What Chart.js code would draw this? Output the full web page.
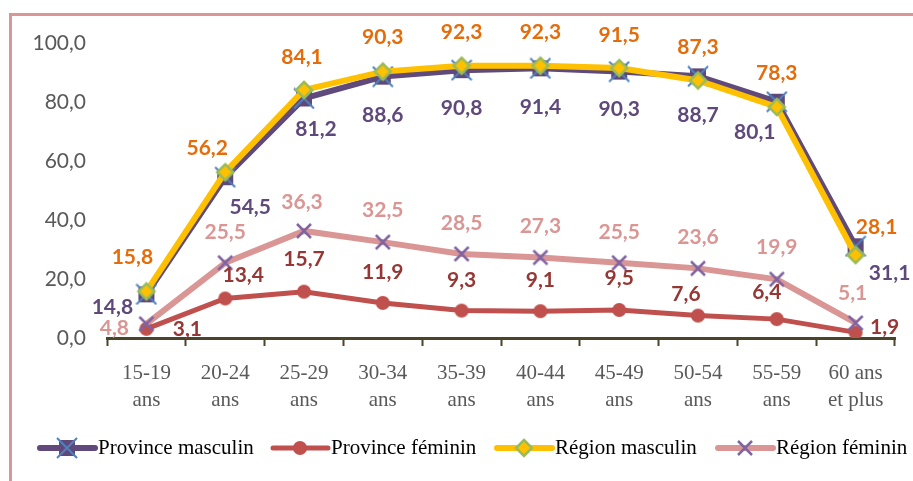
<!DOCTYPE html>
<html lang="fr">
<head>
    <meta charset="UTF-8">
    <title>Taux d'activité par âge</title>
    <script src="https://cdn.jsdelivr.net/npm/chart.js"></script>
    <style>
        html, body {
            margin: 0;
            padding: 0;
            width: 913px;
            height: 481px;
            overflow: hidden;
            background: #fff;
        }
        .frame {
            position: absolute;
            left: 9px;
            top: 13px;
            width: 1000px;
            height: 600px;
            border: 3px solid #D99694;
            box-sizing: border-box;
        }
        #chart {
            position: absolute;
            left: 0;
            top: 0;
        }
    </style>
</head>
<body>
    <div class="frame"></div>
    <canvas id="chart" width="913" height="481"></canvas>

    <script>
        // Data
        const categories = [
            ['15-19', 'ans'], ['20-24', 'ans'], ['25-29', 'ans'], ['30-34', 'ans'], ['35-39', 'ans'],
            ['40-44', 'ans'], ['45-49', 'ans'], ['50-54', 'ans'], ['55-59', 'ans'], ['60 ans', 'et plus']
        ];
        const provinceMasculin = [14.8, 54.5, 81.2, 88.6, 90.8, 91.4, 90.3, 88.7, 80.1, 31.1];
        const provinceFeminin = [3.1, 13.4, 15.7, 11.9, 9.3, 9.1, 9.5, 7.6, 6.4, 1.9];
        const regionMasculin = [15.8, 56.2, 84.1, 90.3, 92.3, 92.3, 91.5, 87.3, 78.3, 28.1];
        const regionFeminin = [4.8, 25.5, 36.3, 32.5, 28.5, 27.3, 25.5, 23.6, 19.9, 5.1];
        const yTicks = [0, 20, 40, 60, 80, 100];

        // label offsets (px) from each point, [dx, dy]
        const offPM = [[-34, 13], [25, 30], [12, 31], [0, 39], [0, 38], [0, 39], [0, 38], [0, 39], [-22, 31], [34, 27]];
        const offPF = [[41, 0], [18, -23], [0, -32], [0, -31], [0, -30], [0, -31], [0, -32], [-12, -21], [-10, -27], [29, -5]];
        const offRM = [[-14, -34], [-18, -24], [-2, -33], [0, -34], [0, -33], [0, -33], [0, -33], [0, -33], [0, -34], [21, -28]];
        const offRF = [[-32, 4], [0, -31], [-2, -29], [0, -32], [0, -31], [0, -31], [0, -31], [0, -31], [0, -32], [-3, -30]];

        function marker(draw) {
            const c = document.createElement('canvas');
            c.width = 22;
            c.height = 22;
            const g = c.getContext('2d');
            draw(g);
            return c;
        }

        const mkPM = marker(function(g) {
            g.fillStyle = '#5F497A';
            g.fillRect(3, 3, 16, 16);
            g.strokeStyle = '#4F81BD';
            g.lineWidth = 2;
            g.beginPath();
            g.moveTo(1, 1); g.lineTo(21, 21);
            g.moveTo(21, 1); g.lineTo(1, 21);
            g.stroke();
        });
        const mkPF = marker(function(g) {
            g.fillStyle = '#C0504D';
            g.beginPath();
            g.arc(11, 11, 7, 0, Math.PI * 2);
            g.fill();
        });
        const mkRM = marker(function(g) {
            g.fillStyle = '#FFC000';
            g.strokeStyle = '#9BBB59';
            g.lineWidth = 2.5;
            g.beginPath();
            g.moveTo(11, 3); g.lineTo(19, 11); g.lineTo(11, 19); g.lineTo(3, 11);
            g.closePath();
            g.fill();
            g.stroke();
        });
        const mkRF = marker(function(g) {
            g.strokeStyle = '#8064A2';
            g.lineWidth = 2.5;
            g.beginPath();
            g.moveTo(4, 4); g.lineTo(18, 18);
            g.moveTo(18, 4); g.lineTo(4, 18);
            g.stroke();
        });

        const series = [
            { label: 'Province masculin', data: provinceMasculin, color: '#604A7B', width: 6, marker: mkPM, text: '#5F497A', offs: offPM, order: 4, legendX: 40 },
            { label: 'Province féminin', data: provinceFeminin, color: '#C0504D', width: 5, marker: mkPF, text: '#953735', offs: offPF, order: 3, legendX: 273 },
            { label: 'Région masculin', data: regionMasculin, color: '#FFC000', width: 6, marker: mkRM, text: '#E46C0A', offs: offRM, order: 2, legendX: 497 },
            { label: 'Région féminin', data: regionFeminin, color: '#D99694', width: 6, marker: mkRF, text: '#D99694', offs: offRF, order: 1, legendX: 718 }
        ];

        const fmt = v => v.toFixed(1).replace('.', ',');

        const labelPlugin = {
            id: 'valueLabels',
            afterDatasetsDraw(chart) {
                const ctx = chart.ctx;
                ctx.save();
                ctx.font = 'bold 21px Lato';
                ctx.textAlign = 'center';
                ctx.textBaseline = 'middle';
                chart.data.datasets.forEach(function(ds, i) {
                    const s = series[i];
                    chart.getDatasetMeta(i).data.forEach(function(pt, j) {
                        ctx.fillStyle = s.text;
                        ctx.fillText(fmt(ds.data[j]), pt.x + s.offs[j][0], pt.y + s.offs[j][1]);
                    });
                });
                ctx.restore();
            },
            afterDraw(chart) {
                // legend
                const ctx = chart.ctx;
                const y = 448;
                ctx.save();
                ctx.font = '21px "Liberation Serif"';
                ctx.textBaseline = 'middle';
                ctx.textAlign = 'left';
                series.forEach(function(s) {
                    ctx.strokeStyle = s.color;
                    ctx.lineWidth = s.width;
                    ctx.lineCap = 'round';
                    ctx.beginPath();
                    ctx.moveTo(s.legendX, y);
                    ctx.lineTo(s.legendX + 55, y);
                    ctx.stroke();
                    ctx.drawImage(s.marker, s.legendX + 27 - 11, y - 11);
                    ctx.fillStyle = '#000';
                    ctx.fillText(s.label, s.legendX + 58, y);
                });
                ctx.restore();
            }
        };

        new Chart(document.getElementById('chart'), {
            type: 'line',
            data: {
                labels: categories,
                datasets: series.map(s => ({
                    label: s.label,
                    data: s.data,
                    borderColor: s.color,
                    backgroundColor: s.color,
                    borderWidth: s.width,
                    pointStyle: s.marker,
                    pointRadius: 8,
                    tension: 0,
                    order: s.order
                }))
            },
            options: {
                responsive: false,
                animation: false,
                events: [],
                layout: {
                    padding: { top: 43, right: 18, left: 0, bottom: 0 }
                },
                plugins: {
                    legend: { display: false },
                    tooltip: { enabled: false }
                },
                scales: {
                    x: {
                        offset: true,
                        afterFit(scale) { scale.height = 481 - 338; },
                        border: { color: '#4A452A', width: 3 },
                        grid: {
                            offset: true,
                            drawOnChartArea: false,
                            drawTicks: true,
                            tickLength: 8,
                            tickWidth: 2,
                            tickColor: '#4A452A'
                        },
                        ticks: {
                            color: '#595959',
                            font: { family: '"Liberation Serif"', size: 21, lineHeight: 1.3 },
                            padding: 14,
                            maxRotation: 0,
                            autoSkip: false
                        }
                    },
                    y: {
                        min: 0,
                        max: 100,
                        afterFit(scale) { scale.width = 107; },
                        afterBuildTicks(scale) { scale.ticks = yTicks.map(v => ({ value: v })); },
                        border: { display: false },
                        grid: { display: false },
                        ticks: {
                            color: '#595959',
                            font: { family: 'Lato', size: 21 },
                            padding: 13,
                            callback: v => fmt(v)
                        }
                    }
                }
            },
            plugins: [labelPlugin]
        });
    </script>
</body>
</html>
